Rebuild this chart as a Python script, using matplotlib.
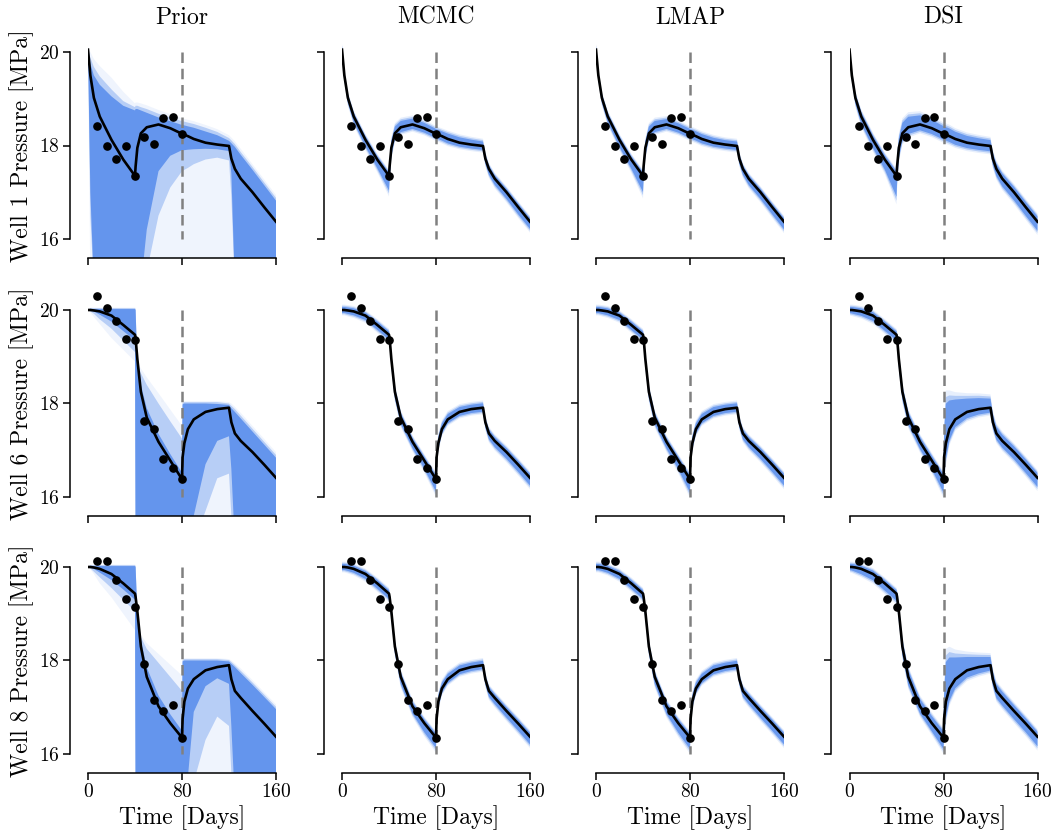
import numpy as np
import matplotlib
matplotlib.use('Agg')
import matplotlib.pyplot as plt

plt.rcParams['font.family'] = ['cmr10', 'DejaVu Serif']
plt.rcParams['mathtext.fontset'] = 'cm'
plt.rcParams['axes.formatter.use_mathtext'] = True

# ---------------- data ----------------
methods = ['Prior', 'MCMC', 'LMAP', 'DSI']
wells = [1, 6, 8]

T = [0, 2, 5, 10, 20, 30, 40, 40.5, 42, 45, 50, 60, 70, 80, 80.5, 82, 85, 90,
     100, 110, 120, 122, 125, 130, 140, 150, 160]

truth_w1 = [20.05, 19.5, 19.02, 18.62, 18.12, 17.7, 17.35, 17.55, 17.95, 18.26, 18.39, 18.45, 18.37,
            18.25, 18.24, 18.23, 18.2, 18.14, 18.06, 18.02, 17.99, 17.72, 17.5, 17.29, 17.0, 16.68, 16.37]
truth_w6 = [20.0, 20.0, 19.99, 19.97, 19.88, 19.68, 19.47, 19.4, 18.95, 18.25, 17.7, 17.18, 16.78,
            16.38, 16.85, 17.15, 17.45, 17.66, 17.82, 17.88, 17.91, 17.6, 17.36, 17.2, 16.96, 16.69, 16.41]
truth_w8 = [20.0, 20.0, 19.99, 19.96, 19.85, 19.65, 19.43, 19.36, 19.05, 18.3, 17.65, 17.02, 16.66,
            16.35, 16.75, 17.12, 17.4, 17.6, 17.79, 17.86, 17.9, 17.6, 17.35, 17.2, 16.92, 16.65, 16.37]

obs_t = [8, 16, 24, 32, 40, 48, 56, 64, 72, 80]
obs_w1 = [18.42, 17.99, 17.72, 17.99, 17.35, 18.19, 18.04, 18.58, 18.62, 18.25]
obs_w6 = [20.31, 20.05, 19.76, 19.37, 19.35, 17.63, 17.45, 16.81, 16.61, 16.38]
obs_w8 = [20.12, 20.12, 19.72, 19.32, 19.14, 17.92, 17.15, 16.92, 17.05, 16.35]

# prior ensemble envelopes: dense (a), medium (b), faint (c)
prior_w1_ua = [20.05, 19.75, 19.5, 19.3, 19.05, 18.85, 18.75, 18.78, 18.78, 18.75, 18.7, 18.6, 18.52, 18.44,
               18.44, 18.43, 18.41, 18.38, 18.3, 18.22, 18.1, 18.05, 17.97, 17.8, 17.48, 17.15, 16.82]
prior_w1_la = [20.05, 17.0, 15.0, 15.0, 15.0, 15.0, 15.0, 15.0, 15.0, 15.0, 16.2, 17.45, 17.78, 17.9,
               17.9, 17.9, 17.91, 17.92, 17.93, 17.92, 17.88, 17.4, 15.0, 15.0, 15.0, 15.0, 15.0]
prior_w1_ub = [20.05, 19.88, 19.68, 19.48, 19.2, 18.95, 18.82, 18.85, 18.85, 18.82, 18.78, 18.68, 18.6, 18.52,
               18.52, 18.51, 18.49, 18.46, 18.38, 18.29, 18.16, 18.11, 18.03, 17.86, 17.54, 17.21, 16.88]
prior_w1_lb = [20.05, 16.5, 15.0, 15.0, 15.0, 15.0, 15.0, 15.0, 15.0, 15.0, 15.3, 16.5, 17.1, 17.45,
               17.45, 17.48, 17.52, 17.6, 17.7, 17.74, 17.68, 16.9, 15.0, 15.0, 15.0, 15.0, 15.0]
prior_w1_uc = [20.1, 20.0, 19.85, 19.7, 19.45, 19.15, 18.9, 18.92, 18.92, 18.9, 18.86, 18.76, 18.67, 18.58,
               18.58, 18.57, 18.55, 18.52, 18.44, 18.35, 18.22, 18.17, 18.09, 17.93, 17.6, 17.27, 16.94]
prior_w1_lc = [20.05, 15.0, 15.0, 15.0, 15.0, 15.0, 15.0, 15.0, 15.0, 15.0, 15.0, 15.0, 15.0, 15.0,
               15.0, 15.0, 15.0, 15.0, 15.0, 15.0, 15.0, 15.0, 15.0, 15.0, 15.0, 15.0, 15.0]

prior_w6_ua = [20.0, 20.02, 20.02, 20.02, 20.02, 20.02, 20.02, 20.0, 18.8, 18.4, 17.9, 17.35, 16.92, 16.52,
               17.98, 18.0, 18.0, 18.0, 18.0, 17.99, 17.97, 17.9, 17.82, 17.68, 17.4, 17.12, 16.84]
prior_w6_la = [20.0, 19.99, 19.97, 19.9, 19.75, 19.55, 19.35, 15.0, 15.0, 15.0, 15.0, 15.0, 15.0, 15.0,
               15.0, 15.0, 15.0, 15.6, 16.7, 17.2, 17.3, 16.6, 15.0, 15.0, 15.0, 15.0, 15.0]
prior_w6_ub = [20.0, 20.04, 20.04, 20.04, 20.04, 20.04, 20.04, 20.02, 18.85, 18.65, 18.4, 18.0, 17.62, 17.25,
               18.01, 18.03, 18.03, 18.03, 18.03, 18.03, 18.0, 17.95, 17.88, 17.74, 17.46, 17.18, 16.9]
prior_w6_lb = [20.0, 19.97, 19.92, 19.8, 19.6, 19.35, 19.1, 15.0, 15.0, 15.0, 15.0, 15.0, 15.0, 15.0,
               15.0, 15.0, 15.0, 15.0, 15.7, 16.4, 16.5, 15.6, 15.0, 15.0, 15.0, 15.0, 15.0]
prior_w6_uc = [20.0, 20.05, 20.05, 20.05, 20.05, 20.05, 20.05, 20.03, 18.88, 18.75, 18.56, 18.22, 17.87, 17.52,
               18.03, 18.05, 18.05, 18.05, 18.05, 18.05, 18.03, 18.0, 17.93, 17.8, 17.52, 17.24, 16.96]
prior_w6_lc = [20.0, 19.95, 19.85, 19.7, 19.4, 19.15, 18.9, 15.0, 15.0, 15.0, 15.0, 15.0, 15.0, 15.0,
               15.0, 15.0, 15.0, 15.0, 15.0, 15.0, 15.0, 15.0, 15.0, 15.0, 15.0, 15.0, 15.0]

prior_w8_ua = [20.0, 20.02, 20.02, 20.02, 20.02, 20.02, 20.02, 20.0, 19.0, 18.45, 17.85, 17.25, 16.85, 16.5,
               17.98, 18.0, 18.0, 18.0, 18.0, 18.0, 17.98, 17.93, 17.86, 17.73, 17.48, 17.22, 16.96]
prior_w8_la = [20.0, 19.99, 19.96, 19.88, 19.72, 19.52, 19.3, 15.0, 15.0, 15.0, 15.0, 15.0, 15.0, 15.0,
               15.0, 15.0, 15.5, 16.9, 17.45, 17.62, 17.5, 16.6, 15.0, 15.0, 15.0, 15.0, 15.0]
prior_w8_ub = [20.0, 20.04, 20.04, 20.04, 20.04, 20.04, 20.04, 20.02, 19.02, 18.5, 18.25, 17.95, 17.65, 17.35,
               18.01, 18.03, 18.03, 18.03, 18.03, 18.03, 18.01, 17.97, 17.9, 17.78, 17.53, 17.27, 17.01]
prior_w8_lb = [20.0, 19.97, 19.9, 19.78, 19.55, 19.3, 19.05, 15.0, 15.0, 15.0, 15.0, 15.0, 15.0, 15.0,
               15.0, 15.0, 15.0, 15.4, 16.3, 16.8, 16.6, 15.6, 15.0, 15.0, 15.0, 15.0, 15.0]
prior_w8_uc = [20.0, 20.05, 20.05, 20.05, 20.05, 20.05, 20.05, 20.03, 19.05, 18.55, 18.37, 18.14, 17.91, 17.68,
               18.03, 18.05, 18.05, 18.05, 18.05, 18.05, 18.03, 18.0, 17.94, 17.83, 17.58, 17.32, 17.06]
prior_w8_lc = [20.0, 19.95, 19.85, 19.65, 19.35, 19.0, 18.65, 15.0, 15.0, 15.0, 15.0, 15.0, 15.0, 15.0,
               15.0, 15.0, 15.0, 15.0, 15.0, 15.0, 15.0, 15.0, 15.0, 15.0, 15.0, 15.0, 15.0]

# posterior band spread below (lo) and above (hi) the reference curve
mcmc_w1_lo = [.01, .02, .04, .06, .08, .12, .25, .20, .10, .06, .04, .03, .03, .03, .03, .03, .03, .03, .02, .02, .02, .04, .06, .07, .08, .09, .09]
mcmc_w1_hi = [.01, .01, .01, .01, .01, .01, .01, .05, .08, .08, .07, .06, .05, .04, .04, .04, .04, .05, .05, .04, .03, .02, .01, .01, .01, .01, .01]
mcmc_w6_lo = [.0, .0, .01, .02, .03, .04, .04, .05, .07, .07, .07, .07, .11, .20, .08, .05, .03, .02, .02, .02, .02, .04, .06, .07, .08, .09, .10]
mcmc_w6_hi = [.0, .0, .0, .0, .0, .01, .01, .02, .03, .03, .03, .02, .02, .02, .05, .07, .06, .05, .04, .03, .03, .02, .02, .02, .02, .02, .02]
mcmc_w8_lo = [.0, .0, .01, .02, .04, .05, .05, .05, .07, .07, .09, .09, .13, .16, .08, .05, .03, .02, .02, .02, .02, .04, .06, .07, .08, .09, .10]
mcmc_w8_hi = [.0, .0, .0, .0, .0, .01, .01, .02, .03, .03, .03, .03, .02, .02, .05, .07, .06, .05, .04, .03, .03, .02, .02, .02, .02, .02, .02]

lmap_w1_lo = [.01, .02, .04, .06, .09, .13, .28, .20, .10, .05, .04, .03, .03, .03, .03, .03, .03, .03, .02, .02, .02, .04, .06, .07, .08, .09, .10]
lmap_w1_hi = [.01, .01, .01, .01, .01, .01, .01, .05, .07, .08, .07, .05, .04, .04, .04, .04, .04, .04, .04, .03, .03, .02, .01, .01, .01, .01, .01]
lmap_w6_lo = [.0, .0, .01, .02, .03, .04, .04, .05, .07, .07, .08, .08, .12, .22, .08, .05, .03, .02, .02, .02, .02, .04, .06, .07, .08, .09, .10]
lmap_w6_hi = [.0, .0, .0, .0, .0, .01, .01, .02, .03, .03, .03, .02, .02, .02, .05, .07, .06, .05, .04, .03, .03, .02, .02, .02, .02, .02, .02]
lmap_w8_lo = [.0, .0, .01, .02, .04, .05, .05, .05, .07, .07, .09, .10, .14, .18, .08, .05, .03, .02, .02, .02, .02, .04, .06, .07, .08, .09, .10]
lmap_w8_hi = [.0, .0, .0, .0, .0, .01, .01, .02, .03, .03, .03, .03, .02, .02, .05, .07, .06, .05, .04, .03, .03, .02, .02, .02, .02, .02, .02]

dsi_w1_lo = [.01, .03, .06, .09, .11, .15, .38, .28, .15, .10, .08, .06, .06, .06, .06, .06, .06, .06, .05, .05, .05, .07, .09, .10, .11, .12, .13]
dsi_w1_hi = [.01, .01, .02, .03, .03, .03, .03, .10, .14, .16, .16, .13, .11, .10, .10, .10, .10, .09, .08, .07, .06, .05, .05, .05, .05, .05, .05]
dsi_w6_lo = [.0, .01, .02, .03, .05, .06, .06, .07, .09, .09, .09, .09, .12, .22, .28, .28, .18, .10, .07, .05, .04, .06, .07, .08, .09, .11, .13]
dsi_w6_hi = [.0, .0, .0, .0, .01, .01, .01, .03, .05, .05, .05, .04, .04, .04, .45, .78, .55, .36, .22, .17, .13, .10, .08, .07, .06, .05, .04]
dsi_w8_lo = [.0, .01, .03, .05, .07, .09, .09, .09, .11, .11, .11, .09, .11, .18, .28, .28, .20, .13, .09, .07, .05, .07, .09, .10, .11, .12, .14]
dsi_w8_hi = [.0, .0, .0, .0, .01, .01, .01, .03, .05, .07, .09, .09, .09, .07, .45, .78, .60, .40, .22, .15, .11, .09, .08, .07, .06, .05, .04]

truth = {1: truth_w1, 6: truth_w6, 8: truth_w8}
obs = {1: obs_w1, 6: obs_w6, 8: obs_w8}
prior = {
    1: [(prior_w1_lc, prior_w1_uc), (prior_w1_lb, prior_w1_ub), (prior_w1_la, prior_w1_ua)],
    6: [(prior_w6_lc, prior_w6_uc), (prior_w6_lb, prior_w6_ub), (prior_w6_la, prior_w6_ua)],
    8: [(prior_w8_lc, prior_w8_uc), (prior_w8_lb, prior_w8_ub), (prior_w8_la, prior_w8_ua)],
}
post = {
    ('MCMC', 1): (mcmc_w1_lo, mcmc_w1_hi), ('MCMC', 6): (mcmc_w6_lo, mcmc_w6_hi), ('MCMC', 8): (mcmc_w8_lo, mcmc_w8_hi),
    ('LMAP', 1): (lmap_w1_lo, lmap_w1_hi), ('LMAP', 6): (lmap_w6_lo, lmap_w6_hi), ('LMAP', 8): (lmap_w8_lo, lmap_w8_hi),
    ('DSI', 1): (dsi_w1_lo, dsi_w1_hi), ('DSI', 6): (dsi_w6_lo, dsi_w6_hi), ('DSI', 8): (dsi_w8_lo, dsi_w8_hi),
}

# ---------------- layout / style ----------------
BLUE = '#6495ED'
W, H = 1055, 834
fig = plt.figure(figsize=(W / 100, H / 100), dpi=100)
col_left = [88, 342, 596, 849.5]
row_top = [33.3, 291.3, 548.3]
aw, ah = 188, 224.4
prior_alphas = [0.10, 0.40, 1.0]
# (scale, extra width, alpha) of the soft edge layers of posterior bands
post_layers = [(1.3, 0.115, 0.15), (1.15, 0.09, 0.40), (1.0, 0.065, 0.92)]

Tarr = np.array(T)
for r, well in enumerate(wells):
    tr = np.array(truth[well])
    for c, m in enumerate(methods):
        ax = fig.add_axes([col_left[c] / W, 1 - (row_top[r] + ah) / H, aw / W, ah / H])
        ax.set_xlim(0, 160)
        ax.set_ylim(15.6, 20.4)
        if m == 'Prior':
            for (lo, hi), a in zip(prior[well], prior_alphas):
                ax.fill_between(Tarr, lo, hi, color=BLUE, alpha=a, lw=0, edgecolor='none', zorder=1)
        else:
            lo, hi = post[(m, well)]
            lo = np.array(lo); hi = np.array(hi)
            for k, add, a in post_layers:
                ax.fill_between(Tarr, tr - k * lo - add, tr + k * hi + add, color=BLUE,
                                alpha=a, lw=0, edgecolor='none', zorder=1)
        ax.plot([80, 80], [20, 16], color='#808080', lw=1.8, ls=(0, (4.2, 2.3)), zorder=3)
        ax.plot(Tarr, tr, color='black', lw=1.9, zorder=4, solid_joinstyle='round')
        ax.plot(obs_t, obs[well], 'o', color='black', ms=5.2, zorder=5)

        for s in ['top', 'right']:
            ax.spines[s].set_visible(False)
        ax.spines['left'].set_position(('outward', 13))
        ax.spines['left'].set_bounds(16, 20)
        ax.spines['bottom'].set_bounds(0, 160)
        for s in ['left', 'bottom']:
            ax.spines[s].set_linewidth(1.1)
        ax.set_yticks([16, 18, 20])
        ax.set_xticks([0, 80, 160])
        ax.tick_params(axis='both', direction='out', length=5, width=1.1, labelsize=14, pad=2.5)
        ax.tick_params(labelleft=(c == 0), labelbottom=(r == 2))
        if r == 0:
            ax.set_title(m, fontsize=17, pad=7)
        if c == 0:
            ax.set_ylabel(f'Well {well} Pressure [MPa]', fontsize=17)
            ax.yaxis.set_label_coords(-0.285, 0.5)
        if r == 2:
            ax.set_xlabel('Time [Days]', fontsize=17)
            ax.xaxis.set_label_coords(0.5, -0.145)

fig.savefig('out.png', dpi=100)
